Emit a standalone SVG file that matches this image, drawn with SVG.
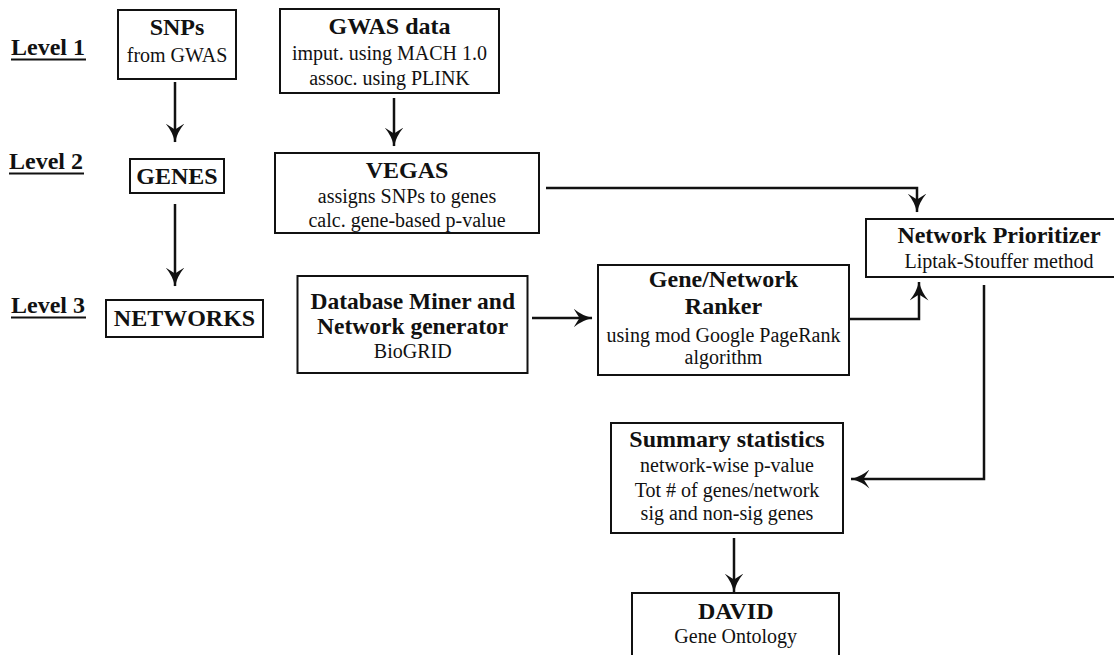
<svg xmlns="http://www.w3.org/2000/svg" width="1114" height="655" viewBox="0 0 1114 655">
<style>
.box{fill:#fff;stroke:#111;stroke-width:2}
.t{font-family:"Liberation Serif","Times New Roman",serif;fill:#111;text-anchor:middle}
.b{font-weight:bold;font-size:24px}
.r{font-size:20px}
.lv{font-family:"Liberation Serif","Times New Roman",serif;font-weight:bold;font-size:24px;fill:#111}
.ul{stroke:#111;stroke-width:2}
.c{fill:none;stroke:#111;stroke-width:2.5}
</style>
<defs>
<marker id="ah" viewBox="0 0 19 19" refX="18.5" refY="9.5" markerWidth="19" markerHeight="19" markerUnits="userSpaceOnUse" orient="auto">
<path d="M0,0 Q8,7 19,9.5 Q8,12 0,19 L6,9.5 z" fill="#111"/>
</marker>
</defs>
<rect width="1114" height="655" fill="#fff"/>
<g id="levels">
<text class="lv" x="11" y="55">Level 1</text>
<line class="ul" x1="11" y1="59.5" x2="86" y2="59.5"/>
<text class="lv" x="9" y="169">Level 2</text>
<line class="ul" x1="9" y1="173.5" x2="84" y2="173.5"/>
<text class="lv" x="11" y="313">Level 3</text>
<line class="ul" x1="11" y1="317.5" x2="86" y2="317.5"/>
</g>
<g id="snps">
<rect class="box" x="118" y="10" width="118" height="69"/>
<text class="t b" x="177" y="35">SNPs</text>
<text class="t r" x="177" y="62">from GWAS</text>
</g>
<g id="gwas">
<rect class="box" x="280" y="9" width="219" height="84"/>
<text class="t b" x="389.5" y="34">GWAS data</text>
<text class="t r" x="389.5" y="60">imput. using MACH 1.0</text>
<text class="t r" x="389.5" y="85">assoc. using PLINK</text>
</g>
<g id="genes">
<rect class="box" x="130" y="159" width="94" height="34"/>
<text class="t b" x="177" y="184">GENES</text>
</g>
<g id="vegas">
<rect class="box" x="275" y="153" width="264" height="80"/>
<text class="t b" x="407" y="178">VEGAS</text>
<text class="t r" x="407" y="203">assigns SNPs to genes</text>
<text class="t r" x="407" y="227">calc. gene-based p-value</text>
</g>
<g id="networks">
<rect class="box" x="106" y="300" width="157" height="37"/>
<text class="t b" x="184.5" y="326">NETWORKS</text>
</g>
<g id="dbminer">
<rect class="box" x="297.5" y="276" width="230" height="97"/>
<text class="t b" x="412.7" y="309" style="font-size:23.5px">Database Miner and</text>
<text class="t b" x="412.7" y="334" style="font-size:23.5px">Network generator</text>
<text class="t r" x="412.7" y="358">BioGRID</text>
</g>
<g id="ranker">
<rect class="box" x="598" y="265" width="251" height="110"/>
<text class="t b" x="723.5" y="287">Gene/Network</text>
<text class="t b" x="723.5" y="314">Ranker</text>
<text class="t r" x="723.5" y="342">using mod Google PageRank</text>
<text class="t r" x="723.5" y="364">algorithm</text>
</g>
<g id="prioritizer">
<rect class="box" x="866" y="219" width="270" height="58"/>
<text class="t b" x="999" y="243">Network Prioritizer</text>
<text class="t r" x="999" y="268">Liptak-Stouffer method</text>
</g>
<g id="summary">
<rect class="box" x="611" y="423" width="232" height="110"/>
<text class="t b" x="727" y="447">Summary statistics</text>
<text class="t r" x="727" y="472">network-wise p-value</text>
<text class="t r" x="727" y="497">Tot # of genes/network</text>
<text class="t r" x="727" y="520">sig and non-sig genes</text>
</g>
<g id="david">
<rect class="box" x="632" y="593" width="207" height="80"/>
<text class="t b" x="735.7" y="619">DAVID</text>
<text class="t r" x="735.7" y="643">Gene Ontology</text>
</g>
<g id="connectors">
<path class="c" d="M175,82 V142" marker-end="url(#ah)"/>
<path class="c" d="M394,98 V146" marker-end="url(#ah)"/>
<path class="c" d="M175,204 V286" marker-end="url(#ah)"/>
<path class="c" d="M546,188 H917 V212" marker-end="url(#ah)"/>
<path class="c" d="M532,318 H592" marker-end="url(#ah)"/>
<path class="c" d="M849,319 H919 V282" marker-end="url(#ah)"/>
<path class="c" d="M984,285 V479 H851" marker-end="url(#ah)"/>
<path class="c" d="M734,538 V592" marker-end="url(#ah)"/>
</g>
</svg>
